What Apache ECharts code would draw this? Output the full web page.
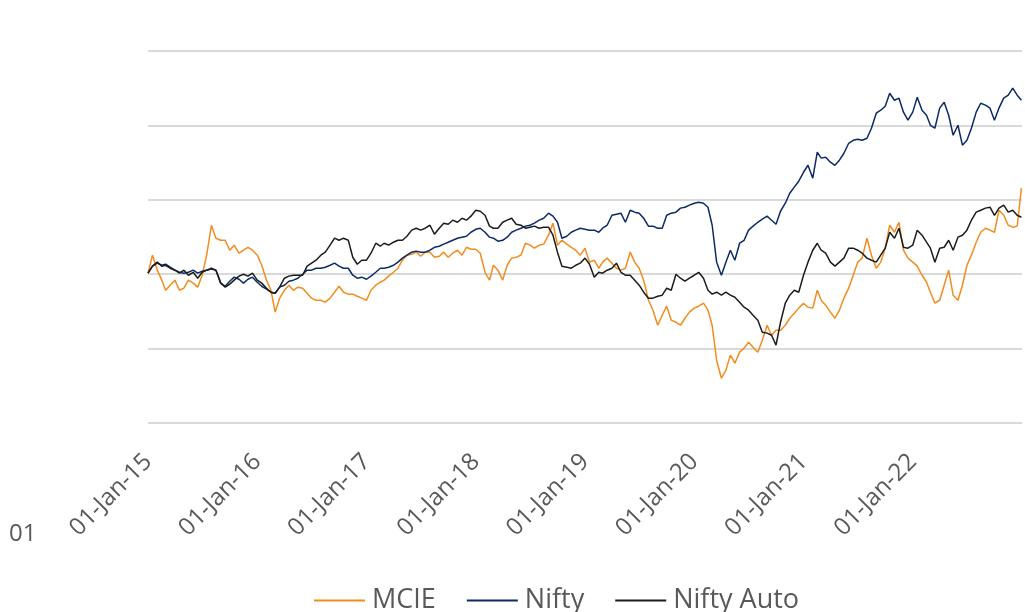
<!DOCTYPE html>
<html>
<head>
<meta charset="utf-8">
<title>MCIE vs Nifty vs Nifty Auto</title>
<script src="https://cdn.jsdelivr.net/npm/echarts/dist/echarts.min.js"></script>
<style>
  html, body { margin: 0; padding: 0; background: #fff; }
  #main { width: 1025px; height: 612px; }
</style>
</head>
<body>
<div id="main"></div>
<script>
var dates = [
  '2015-01-01','2015-01-16','2015-02-01','2015-02-16','2015-03-01','2015-03-16','2015-04-01','2015-04-16','2015-05-01','2015-05-16','2015-06-01','2015-06-16','2015-07-01','2015-07-16','2015-08-01','2015-08-16','2015-09-01','2015-09-16','2015-10-01','2015-10-16','2015-11-01','2015-11-16','2015-12-01','2015-12-16',
  '2016-01-01','2016-01-16','2016-02-01','2016-02-16','2016-03-01','2016-03-16','2016-04-01','2016-04-16','2016-05-01','2016-05-16','2016-06-01','2016-06-16','2016-07-01','2016-07-16','2016-08-01','2016-08-16','2016-09-01','2016-09-16','2016-10-01','2016-10-16','2016-11-01','2016-11-16','2016-12-01','2016-12-16',
  '2017-01-01','2017-01-16','2017-02-01','2017-02-16','2017-03-01','2017-03-16','2017-04-01','2017-04-16','2017-05-01','2017-05-16','2017-06-01','2017-06-16','2017-07-01','2017-07-16','2017-08-01','2017-08-16','2017-09-01','2017-09-16','2017-10-01','2017-10-16','2017-11-01','2017-11-16','2017-12-01','2017-12-16',
  '2018-01-01','2018-01-16','2018-02-01','2018-02-16','2018-03-01','2018-03-16','2018-04-01','2018-04-16','2018-05-01','2018-05-16','2018-06-01','2018-06-16','2018-07-01','2018-07-16','2018-08-01','2018-08-16','2018-09-01','2018-09-16','2018-10-01','2018-10-16','2018-11-01','2018-11-16','2018-12-01','2018-12-16',
  '2019-01-01','2019-01-16','2019-02-01','2019-02-16','2019-03-01','2019-03-16','2019-04-01','2019-04-16','2019-05-01','2019-05-16','2019-06-01','2019-06-16','2019-07-01','2019-07-16','2019-08-01','2019-08-16','2019-09-01','2019-09-16','2019-10-01','2019-10-16','2019-11-01','2019-11-16','2019-12-01','2019-12-16',
  '2020-01-01','2020-01-16','2020-02-01','2020-02-16','2020-03-01','2020-03-16','2020-04-01','2020-04-16','2020-05-01','2020-05-16','2020-06-01','2020-06-16','2020-07-01','2020-07-16','2020-08-01','2020-08-16','2020-09-01','2020-09-16','2020-10-01','2020-10-16','2020-11-01','2020-11-16','2020-12-01','2020-12-16',
  '2021-01-01','2021-01-16','2021-02-01','2021-02-16','2021-03-01','2021-03-16','2021-04-01','2021-04-16','2021-05-01','2021-05-16','2021-06-01','2021-06-16','2021-07-01','2021-07-16','2021-08-01','2021-08-16','2021-09-01','2021-09-16','2021-10-01','2021-10-16','2021-11-01','2021-11-16','2021-12-01','2021-12-16',
  '2022-01-01','2022-01-16','2022-02-01','2022-02-16','2022-03-01','2022-03-16','2022-04-01','2022-04-16','2022-05-01','2022-05-16','2022-06-01','2022-06-16','2022-07-01','2022-07-16','2022-08-01','2022-08-16','2022-09-01','2022-09-16','2022-10-01','2022-10-16','2022-11-01','2022-11-16','2022-12-01','2022-12-16',
  '2022-12-30'
];

// rebased to 100 at start
var mcie = [
  100.7, 112.8, 102.7, 96.0, 89.2, 92.6, 96.0, 89.2, 90.6, 96.0, 94.0, 91.3, 99.3, 112.8, 132.9, 124.2, 122.8, 122.8, 116.1, 119.5, 114.1, 116.1, 118.1, 116.1,
  112.8, 106.0, 96.0, 89.2, 74.5, 83.9, 89.2, 92.6, 89.2, 91.3, 90.6, 87.2, 83.9, 82.5, 82.5, 81.2, 83.9, 87.9, 91.9, 87.9, 86.6, 86.6, 85.2, 83.9,
  82.5, 89.2, 92.6, 94.6, 96.0, 98.7, 101.3, 104.0, 109.4, 112.8, 113.4, 114.8, 112.1, 114.8, 114.8, 111.4, 112.1, 114.8, 111.4, 114.1, 116.1, 112.8, 118.1, 116.8,
  116.8, 114.1, 101.3, 96.0, 106.0, 102.7, 96.0, 106.0, 110.8, 111.4, 112.8, 120.8, 119.5, 117.5, 119.5, 120.2, 126.2, 134.3, 119.5, 122.8, 120.2, 118.1, 116.1, 112.8,
  117.5, 108.1, 109.4, 104.0, 108.1, 110.8, 107.4, 104.0, 102.7, 104.0, 114.8, 108.1, 104.0, 96.0, 82.5, 75.8, 65.7, 72.4, 78.5, 69.1, 67.7, 65.7, 70.4, 74.5,
  77.2, 78.5, 80.5, 75.8, 65.7, 42.2, 30.1, 35.5, 45.6, 40.2, 47.6, 50.3, 54.3, 50.9, 47.6, 55.6, 65.7, 59.0, 62.4, 62.4, 65.7, 70.4, 73.8, 77.2,
  80.5, 77.8, 77.2, 89.2, 82.5, 79.2, 74.5, 70.4, 75.8, 83.9, 90.6, 99.3, 108.1, 110.8, 124.2, 112.8, 104.0, 108.1, 117.5, 132.9, 128.2, 134.9, 116.1, 110.8,
  108.1, 105.4, 99.3, 94.6, 87.9, 80.5, 82.5, 92.6, 102.7, 85.9, 82.5, 92.6, 106.0, 112.8, 121.5, 128.2, 130.9, 129.6, 128.2, 143.0, 139.6, 132.9, 131.6, 132.3,
  157.8
];

var nifty = [
  100.7, 105.4, 107.4, 106.0, 106.7, 104.7, 102.7, 101.3, 100.7, 101.3, 102.7, 100.7, 102.0, 102.7, 103.4, 102.7, 94.0, 91.9, 95.3, 98.0, 96.6, 94.0, 96.6, 98.0,
  94.6, 91.9, 89.9, 87.9, 87.2, 91.3, 92.6, 95.3, 96.0, 97.3, 100.0, 102.7, 102.7, 104.0, 104.0, 104.7, 106.0, 107.4, 105.4, 104.0, 104.0, 99.3, 97.3, 98.0,
  96.6, 98.7, 101.3, 104.0, 104.0, 104.7, 106.0, 108.1, 110.8, 112.8, 114.8, 115.5, 114.8, 114.8, 116.1, 118.1, 118.8, 120.2, 121.5, 122.8, 124.2, 124.9, 125.5, 128.2,
  130.2, 130.9, 128.2, 124.9, 124.2, 122.2, 122.8, 124.9, 128.2, 129.6, 130.9, 132.3, 132.9, 134.3, 136.3, 137.6, 141.0, 139.0, 134.9, 124.2, 125.5, 128.2, 129.6, 130.9,
  130.2, 129.6, 129.6, 128.2, 130.9, 132.9, 139.6, 140.3, 141.0, 134.9, 143.0, 141.7, 141.0, 137.6, 132.3, 132.3, 130.9, 130.9, 139.6, 141.0, 141.7, 144.4, 145.0, 146.4,
  147.7, 148.4, 147.7, 145.0, 132.9, 108.1, 99.3, 108.1, 116.1, 109.4, 120.8, 122.8, 129.6, 132.3, 134.9, 137.0, 139.0, 136.3, 133.6, 142.3, 147.7, 154.4, 158.5, 162.5,
  168.5, 173.2, 164.5, 182.0, 178.0, 178.6, 175.3, 173.2, 176.6, 181.3, 188.0, 190.0, 190.7, 190.0, 191.4, 198.1, 208.2, 210.2, 212.9, 221.6, 216.9, 218.3, 208.9, 203.5,
  208.9, 218.9, 210.2, 206.8, 200.1, 198.1, 211.6, 215.6, 206.8, 193.4, 200.1, 186.7, 190.0, 198.1, 208.9, 214.9, 213.6, 211.6, 203.5, 211.6, 218.3, 220.3, 225.0, 220.3,
  216.9
];

var niftyAuto = [
  100.7, 105.4, 108.1, 105.4, 106.0, 104.0, 102.7, 100.7, 102.7, 99.3, 101.3, 97.3, 101.3, 102.7, 104.0, 102.7, 94.0, 91.3, 93.3, 96.0, 98.7, 100.0, 98.7, 100.7,
  96.0, 94.0, 90.6, 87.9, 87.2, 91.3, 97.3, 98.7, 99.3, 99.3, 99.3, 105.4, 107.4, 109.4, 112.8, 114.8, 119.5, 124.2, 122.8, 124.2, 122.8, 111.4, 106.7, 109.4,
  109.4, 114.1, 120.8, 118.8, 120.8, 119.5, 121.5, 122.8, 122.8, 125.5, 129.6, 130.9, 129.6, 130.9, 132.9, 126.9, 130.9, 134.3, 133.6, 136.3, 134.9, 137.6, 136.3, 139.0,
  143.0, 142.3, 139.6, 132.3, 130.9, 130.9, 134.9, 136.3, 137.6, 133.6, 132.9, 130.9, 131.6, 132.3, 130.9, 131.6, 131.6, 126.2, 114.8, 105.4, 104.7, 104.0, 106.0, 107.4,
  110.8, 106.7, 98.0, 101.3, 100.7, 102.7, 104.0, 107.4, 101.3, 99.3, 99.3, 96.0, 92.6, 87.9, 83.9, 83.9, 85.2, 85.9, 90.6, 89.2, 100.0, 97.3, 95.3, 97.3,
  99.3, 101.3, 97.3, 89.2, 86.6, 87.9, 85.9, 87.9, 85.9, 84.5, 81.2, 77.8, 75.8, 72.4, 69.1, 61.0, 60.4, 59.0, 52.3, 67.7, 80.5, 85.9, 89.2, 87.9,
  99.3, 108.1, 116.1, 120.8, 116.1, 114.1, 108.1, 105.4, 108.1, 110.8, 117.5, 117.5, 116.1, 114.1, 110.8, 109.4, 108.1, 112.8, 117.5, 128.2, 124.2, 130.9, 118.1, 117.5,
  119.5, 129.6, 126.2, 121.5, 117.5, 108.1, 117.5, 118.1, 122.8, 116.1, 124.9, 126.2, 129.6, 136.3, 141.7, 143.0, 144.4, 145.0, 139.6, 144.4, 146.4, 141.7, 143.0, 139.6,
  138.3
];

var seriesNames = ['MCIE', 'Nifty', 'Nifty Auto'];
var seriesColors = ['#F28C1E', '#0B2A66', '#1C1C1C'];
var yearTicks = [2015, 2016, 2017, 2018, 2019, 2020, 2021, 2022];

// date string -> fractional year, so the x axis can tick on 1 Jan
function toYear(s) {
  var t = Date.parse(s + 'T00:00:00Z');
  var y = new Date(t).getUTCFullYear();
  var a = Date.UTC(y, 0, 1), b = Date.UTC(y + 1, 0, 1);
  return y + (t - a) / (b - a);
}

function pairs(vals) {
  return vals.map(function (v, i) { return [toYear(dates[i]), v]; });
}

var lists = [mcie, nifty, niftyAuto];
var series = [];
for (var i = 0; i < lists.length; i++) {
  series.push({
    name: seriesNames[i],
    type: 'line',
    data: pairs(lists[i]),
    showSymbol: false,
    symbol: 'none',
    lineStyle: { width: 1.5, color: seriesColors[i] },
    itemStyle: { color: seriesColors[i] }
  });
}

var chart = echarts.init(document.getElementById('main'), null, { renderer: 'canvas' });
chart.setOption({
  animation: false,
  backgroundColor: '#fff',
  grid: { left: 148, right: 3, top: 51, bottom: 189, containLabel: false },
  xAxis: {
    type: 'value',
    min: 2015,
    max: 2023,
    interval: 1,
    axisLine: { show: false },
    axisTick: { show: false },
    splitLine: { show: false },
    axisLabel: {
      rotate: 45,
      margin: 35,
      color: '#595959',
      fontSize: 24,
      fontFamily: 'Open Sans',
      showMaxLabel: false,
      formatter: function (v) {
        if (yearTicks.indexOf(v) < 0) return '';
        return '01-Jan-' + String(v).slice(2);
      }
    }
  },
  yAxis: {
    type: 'value',
    min: 0,
    max: 250,
    interval: 50,
    axisLine: { show: false },
    axisTick: { show: false },
    axisLabel: { show: false },
    splitLine: { lineStyle: { color: '#D9D9D9', width: 2 } }
  },
  legend: {
    left: 314,
    top: 587,
    padding: 0,
    itemWidth: 51,
    itemHeight: 2,
    itemGap: 31,
    icon: 'rect',
    textStyle: { color: '#595959', fontSize: 27, fontFamily: 'Open Sans', padding: [0, 0, 0, 2] },
    data: seriesNames
  },
  graphic: [{
    type: 'text',
    left: 9,
    top: 522,
    style: { text: '01', fill: '#595959', fontSize: 24, fontFamily: 'Open Sans' }
  }],
  series: series
});
</script>
</body>
</html>
